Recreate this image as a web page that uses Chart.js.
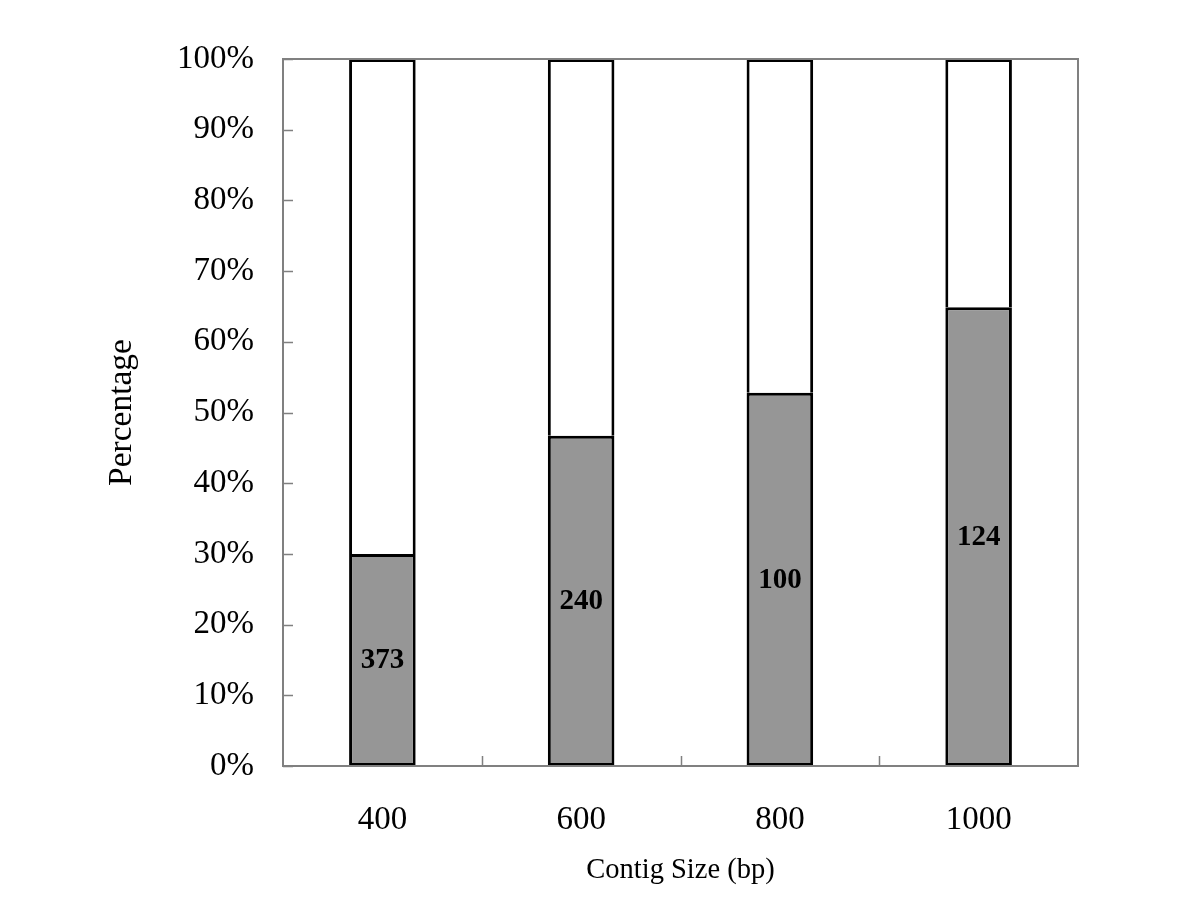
<!DOCTYPE html>
<html lang="en">
<head>
    <meta charset="UTF-8">
    <title>Contig Size Percentage</title>
    <script src="https://cdn.jsdelivr.net/npm/chart.js"></script>
    <style>
        body {
            margin: 0;
            padding: 0;
            background-color: white;
        }
        #wrap {
            width: 1200px;
            height: 900px;
        }
    </style>
</head>
<body>
    <div id="wrap">
        <canvas id="contigChart" width="1200" height="900"></canvas>
    </div>

    <script>
        const categories = ["400", "600", "800", "1000"];
        const lowerPercent = [30, 46.7, 52.8, 64.9]; // gray part
        const upperPercent = [70, 53.3, 47.2, 35.1]; // white remainder
        const barLabels = ["373", "240", "100", "124"];
        const yTicks = [0, 10, 20, 30, 40, 50, 60, 70, 80, 90, 100];

        const serif = "'Liberation Serif', 'Times New Roman', serif";

        // border around the plot area plus the small inward ticks
        const frameAndTicks = {
            id: 'frameAndTicks',
            afterDraw(chart) {
                const ctx = chart.ctx;
                const area = chart.chartArea;
                const xScale = chart.scales.x;
                const yScale = chart.scales.y;
                ctx.save();
                ctx.strokeStyle = '#808080';
                ctx.lineWidth = 2;
                ctx.strokeRect(area.left, area.top, area.right - area.left, area.bottom - area.top);
                ctx.lineWidth = 1.5;
                ctx.beginPath();
                yTicks.forEach(v => {
                    const y = Math.round(yScale.getPixelForValue(v)) + 0.5;
                    ctx.moveTo(area.left, y);
                    ctx.lineTo(area.left + 10, y);
                });
                for (let i = 1; i < categories.length; i++) {
                    const x = Math.round((xScale.getPixelForValue(i - 1) + xScale.getPixelForValue(i)) / 2) + 0.5;
                    ctx.moveTo(x, area.bottom);
                    ctx.lineTo(x, area.bottom - 10);
                }
                ctx.stroke();
                ctx.restore();
            }
        };

        // bold numbers in the middle of the gray bars
        const barText = {
            id: 'barText',
            afterDatasetsDraw(chart) {
                const ctx = chart.ctx;
                const meta = chart.getDatasetMeta(0);
                ctx.save();
                ctx.font = "bold 29px " + serif;
                ctx.fillStyle = '#000';
                ctx.textAlign = 'center';
                ctx.textBaseline = 'middle';
                meta.data.forEach((bar, i) => {
                    const p = bar.getProps(['x', 'y', 'base'], true);
                    ctx.fillText(barLabels[i], p.x, (p.y + p.base) / 2 + 1);
                });
                ctx.restore();
            }
        };

        new Chart(document.getElementById('contigChart'), {
            type: 'bar',
            data: {
                labels: categories,
                datasets: [
                    {
                        data: lowerPercent,
                        backgroundColor: '#969696',
                        borderColor: '#000',
                        borderWidth: 3,
                        borderSkipped: false,
                        categoryPercentage: 1,
                        barPercentage: 0.335
                    },
                    {
                        data: upperPercent,
                        backgroundColor: '#ffffff',
                        borderColor: '#000',
                        borderWidth: 3,
                        borderSkipped: 'start',
                        categoryPercentage: 1,
                        barPercentage: 0.335
                    }
                ]
            },
            options: {
                responsive: false,
                animation: false,
                layout: {
                    padding: { left: 102, right: 122, top: 59, bottom: 12 }
                },
                plugins: {
                    legend: { display: false },
                    tooltip: { enabled: false }
                },
                scales: {
                    x: {
                        stacked: true,
                        grid: { display: false, drawTicks: false },
                        border: { display: false },
                        ticks: {
                            color: '#000',
                            padding: 35,
                            font: { family: serif, size: 33 }
                        },
                        title: {
                            display: true,
                            text: 'Contig Size (bp)',
                            color: '#000',
                            padding: 0,
                            font: { family: serif, size: 28.5 }
                        },
                        afterFit(scale) { scale.height = 122; }
                    },
                    y: {
                        stacked: true,
                        min: 0,
                        max: 100,
                        grid: { display: false, drawTicks: false },
                        border: { display: false },
                        ticks: {
                            stepSize: 10,
                            color: '#000',
                            padding: 29,
                            font: { family: serif, size: 33 },
                            callback: v => v + '%'
                        },
                        title: {
                            display: true,
                            text: 'Percentage',
                            color: '#000',
                            padding: 0,
                            font: { family: serif, size: 33.5 }
                        },
                        afterFit(scale) { scale.width = 181; }
                    }
                }
            },
            plugins: [frameAndTicks, barText]
        });
    </script>
</body>
</html>
